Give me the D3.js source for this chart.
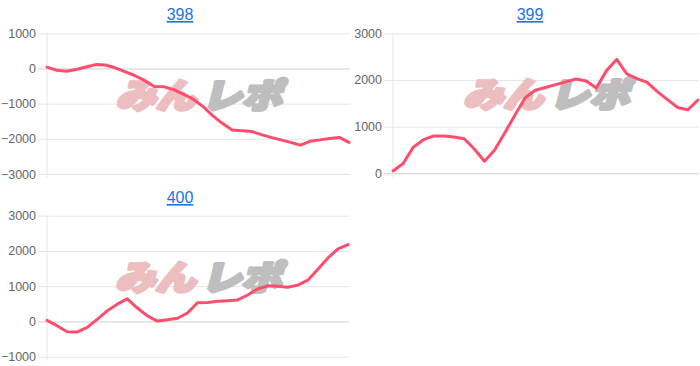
<!DOCTYPE html>
<html>
<head>
<meta charset="utf-8">
<script src="https://cdn.jsdelivr.net/npm/d3@7"></script>
<style>
  body { margin: 0; background: #fff; }
  svg { display: block; }
  .tick text { font-family: "Liberation Sans", Arial, sans-serif; font-size: 12.5px; fill: #666; }
</style>
</head>
<body>
<script>
const titles = ["398", "399", "400"];

// 差枚 values per panel (equally spaced points)
const series398 = [40, -50, -80, -30, 40, 110, 100, 20, -90, -200, -340, -510, -520, -600, -730,
  -870, -1080, -1340, -1560, -1750, -1770, -1790, -1880, -1960, -2030, -2100, -2180, -2070,
  -2030, -1990, -1960, -2100];
const series399 = [50, 210, 560, 720, 800, 800, 780, 740, 520, 260, 500, 870, 1250, 1620, 1780,
  1840, 1900, 1960, 2020, 1980, 1830, 2200, 2440, 2130, 2030, 1950, 1750, 1580, 1410, 1360, 1570];
const series400 = [30, -120, -290, -300, -170, 60, 300, 490, 640, 380, 160, 10, 50, 90, 240,
  530, 540, 570, 590, 610, 750, 920, 1010, 1000, 970, 1030, 1170, 1480, 1800, 2060, 2180];

const ticks398 = [1000, 0, -1000, -2000, -3000];
const ticks399 = [3000, 2000, 1000, 0];
const ticks400 = [3000, 2000, 1000, 0, -1000];

const width = 700, height = 366;

const panels = [
  {title: titles[0], data: series398, ticks: ticks398, x0: 47, x1: 349, yTop: 33.3, yBot: 174, titleX: 180, titleY: 20},
  {title: titles[1], data: series399, ticks: ticks399, x0: 393, x1: 698, yTop: 33.3, yBot: 173.3, titleX: 530, titleY: 20},
  {title: titles[2], data: series400, ticks: ticks400, x0: 47, x1: 348, yTop: 215.7, yBot: 356.7, titleX: 180, titleY: 203}
];

const svg = d3.select("body").append("svg")
    .attr("width", width)
    .attr("height", height);

panels.forEach(function (p) {
    const g = svg.append("g");

    const x = d3.scaleLinear()
        .domain([0, p.data.length - 1])
        .range([p.x0, p.x1]);
    const y = d3.scaleLinear()
        .domain(d3.extent(p.ticks))
        .range([p.yBot, p.yTop]);

    // grid + tick labels
    const axis = g.append("g")
        .attr("transform", "translate(" + p.x0 + ",0)")
        .call(d3.axisLeft(y)
            .tickValues(p.ticks)
            .tickFormat(d3.format("d"))
            .tickSizeInner(-(p.x1 - p.x0 + 1))
            .tickSizeOuter(0)
            .tickPadding(11));
    axis.select(".domain").remove();
    axis.selectAll(".tick line")
        .attr("x1", -9)
        .attr("stroke", d => d === 0 ? "#cfcfcf" : "#e6e6e6");

    // left axis line
    g.append("line")
        .attr("x1", p.x0).attr("x2", p.x0)
        .attr("y1", p.yTop).attr("y2", p.yBot + 4)
        .attr("stroke", "#e6e6e6");

    // watermark
    const cx = (p.x0 + p.x1) / 2;
    const cy = (p.yTop + p.yBot) / 2 - 9;
    const wm = g.append("g")
        .attr("transform", "translate(" + cx + "," + (cy + 13) + ") skewX(-14)")
        .style("font-family", "'Noto Sans CJK JP', sans-serif")
        .style("font-weight", "900")
        .style("font-size", "34px");
    wm.append("text")
        .attr("x", -82).attr("textLength", 80).attr("lengthAdjust", "spacingAndGlyphs")
        .attr("fill", "rgb(236,190,192)")
        .attr("stroke", "rgb(236,190,192)")
        .attr("stroke-width", 3.5)
        .attr("stroke-linejoin", "round")
        .text("みん");
    wm.append("text")
        .attr("x", 4).attr("textLength", 80).attr("lengthAdjust", "spacingAndGlyphs")
        .attr("fill", "rgb(190,190,190)")
        .attr("stroke", "rgb(190,190,190)")
        .attr("stroke-width", 3.5)
        .attr("stroke-linejoin", "round")
        .text("レポ");

    // series line
    g.append("path")
        .datum(p.data)
        .attr("fill", "none")
        .attr("stroke", "#ff4d6d")
        .attr("stroke-width", 3)
        .attr("stroke-linejoin", "round")
        .attr("stroke-linecap", "round")
        .attr("d", d3.line()
            .x((d, i) => x(i))
            .y(d => y(d)));

    // title (link style)
    g.append("text")
        .attr("x", p.titleX)
        .attr("y", p.titleY)
        .attr("text-anchor", "middle")
        .attr("fill", "#1a73e8")
        .attr("text-decoration", "underline")
        .style("font-family", "'Liberation Sans', Arial, sans-serif")
        .style("font-size", "16px")
        .text(p.title);
});
</script>
</body>
</html>
